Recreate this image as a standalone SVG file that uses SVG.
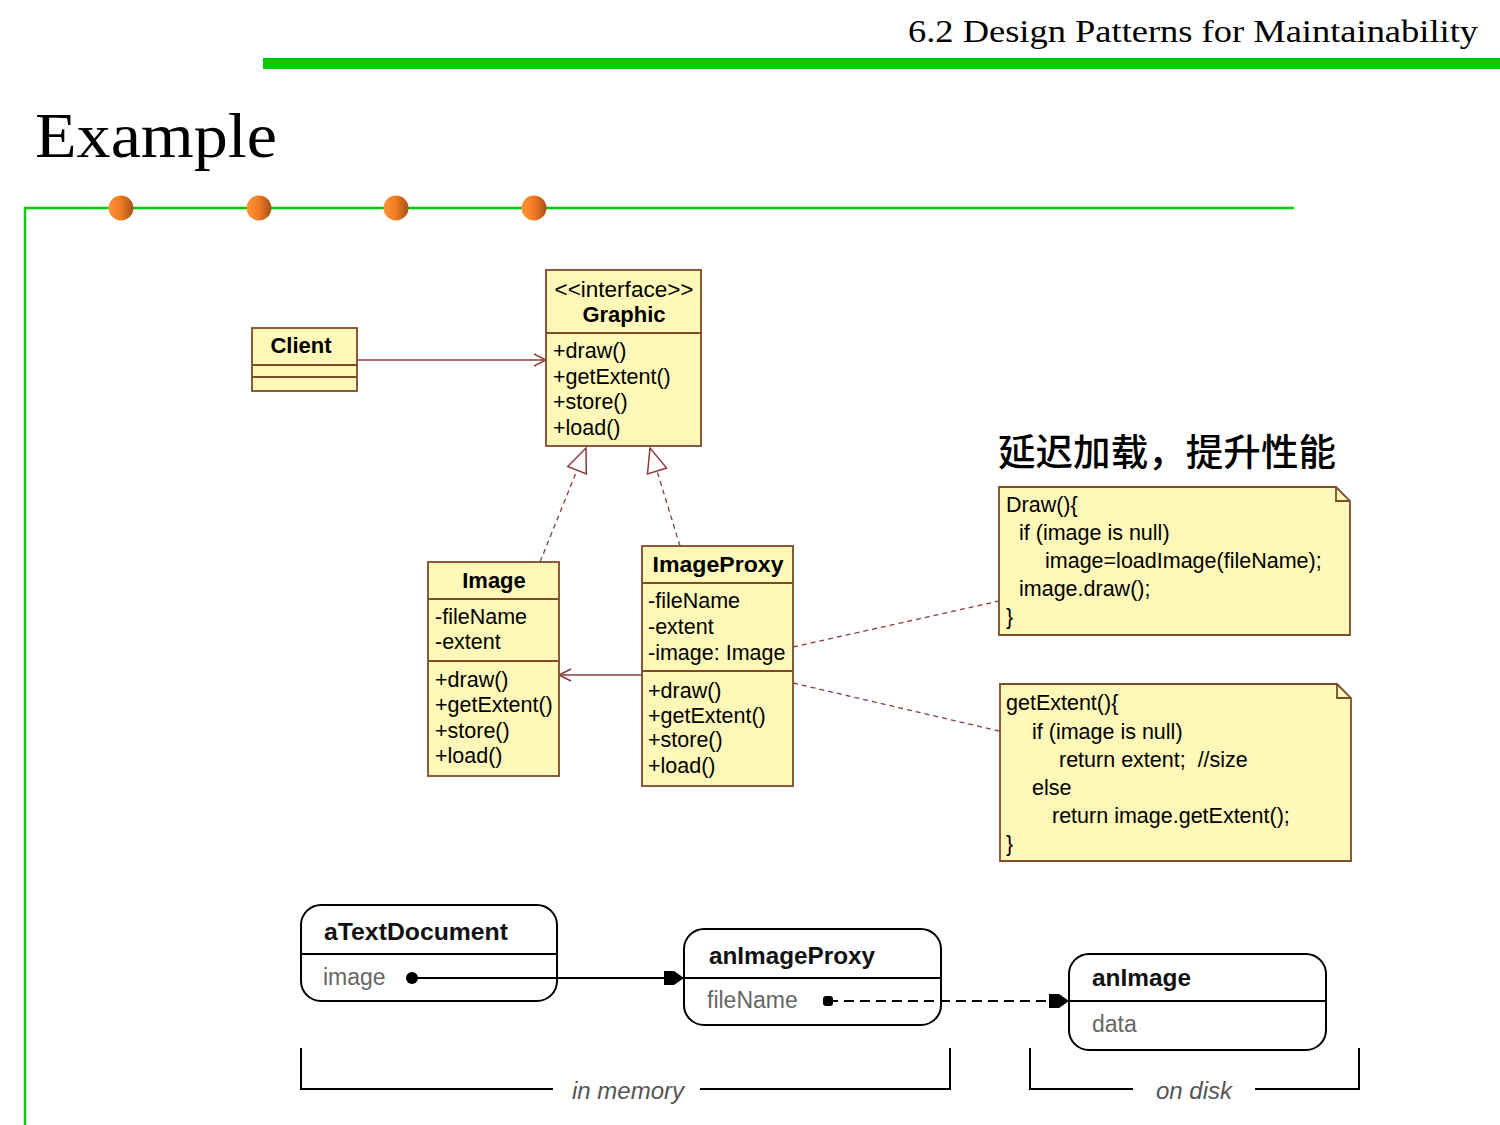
<svg xmlns="http://www.w3.org/2000/svg" width="1500" height="1125" viewBox="0 0 1500 1125">
<style>
.cls{fill:#FFF8B8;stroke:#7D4B2A;stroke-width:1.8}
.div{stroke:#7D4B2A;stroke-width:1.8;fill:none}
.t{font-family:"Liberation Sans",Arial,sans-serif;font-size:21.5px;fill:#000}
.tb{font-family:"Liberation Sans",Arial,sans-serif;font-size:22px;font-weight:bold;fill:#000}
.note{fill:#FFF8B8;stroke:#7D4B2A;stroke-width:1.8}
.nt{font-family:"Liberation Sans",Arial,sans-serif;font-size:21.5px;fill:#000}
.conn{stroke:#8C3B3B;stroke-width:1.5;fill:none}
.dash{stroke:#8C3B3B;stroke-width:1.3;fill:none;stroke-dasharray:5 4}
.obj{fill:none;stroke:#000;stroke-width:2}
.ob{font-family:"Liberation Sans",Arial,sans-serif;font-size:23px;font-weight:bold;fill:#111}
.oa{font-family:"Liberation Sans",Arial,sans-serif;font-size:23px;fill:#666}
.br{stroke:#000;stroke-width:2;fill:none}
.it{font-family:"Liberation Sans",Arial,sans-serif;font-size:24px;font-style:italic;fill:#555}
.dot{fill:url(#og)}
</style>
<defs>
<linearGradient id="og" x1="0" y1="0" x2="1" y2="0">
<stop offset="0" stop-color="#FF9438"/>
<stop offset="0.5" stop-color="#F07A22"/>
<stop offset="1" stop-color="#A4501A"/>
</linearGradient>
<marker id="open" markerUnits="userSpaceOnUse" markerWidth="16" markerHeight="16" refX="13" refY="8" orient="auto">
<path d="M1,2 L13,8 L1,14" fill="none" stroke="#8C3B3B" stroke-width="1.5"/>
</marker>
<marker id="tri" markerUnits="userSpaceOnUse" markerWidth="30" markerHeight="26" refX="26" refY="13" orient="auto">
<path d="M2,3 L26,13 L2,23 Z" fill="#fff" stroke="#8C3B3B" stroke-width="1.5" stroke-dasharray="none"/>
</marker>
<marker id="fill" markerUnits="userSpaceOnUse" markerWidth="24" markerHeight="18" refX="21" refY="9" orient="auto">
<path d="M1,2 L11,2 L21,9 L11,16 L1,16 Z" fill="#000" stroke="none"/>
</marker>
</defs>

<rect x="0" y="0" width="1500" height="1125" fill="#fff"/>

<!-- header -->
<g id="header">
<text x="1478" y="42" text-anchor="end" font-family="'Liberation Serif','DejaVu Serif',serif" font-size="32" textLength="570" lengthAdjust="spacingAndGlyphs" fill="#000">6.2 Design Patterns for Maintainability</text>
<rect x="263" y="58" width="1237" height="11" fill="#00CC00"/>
<text x="35" y="157" font-family="'Liberation Serif','DejaVu Serif',serif" font-size="63" textLength="242" lengthAdjust="spacingAndGlyphs" fill="#000">Example</text>
<line x1="24" y1="208" x2="1294" y2="208" stroke="#00CC00" stroke-width="2.5"/>
<line x1="25" y1="207" x2="25" y2="1125" stroke="#00CC00" stroke-width="2.5"/>
<circle class="dot" cx="121" cy="208" r="12.5"/>
<circle class="dot" cx="259" cy="208" r="12.5"/>
<circle class="dot" cx="396" cy="208" r="12.5"/>
<circle class="dot" cx="534" cy="208" r="12.5"/>
</g>

<!-- connectors -->
<g id="connectors">
<line class="conn" x1="357" y1="360" x2="546" y2="360" marker-end="url(#open)"/>
<line class="dash" x1="540" y1="562" x2="586" y2="448" marker-end="url(#tri)"/>
<line class="dash" x1="680" y1="546" x2="650" y2="448" marker-end="url(#tri)"/>
<line class="conn" x1="642" y1="675" x2="559" y2="675" marker-end="url(#open)"/>
<line class="dash" x1="793" y1="647" x2="999" y2="601"/>
<line class="dash" x1="793" y1="683" x2="999" y2="731"/>
<line x1="412" y1="978" x2="684" y2="978" stroke="#000" stroke-width="2" marker-end="url(#fill)"/>
<line x1="828" y1="1001" x2="1069" y2="1001" stroke="#000" stroke-width="2" stroke-dasharray="10 6" marker-end="url(#fill)"/>
</g>

<!-- Client -->
<g id="client">
<rect class="cls" x="252" y="328" width="105" height="63"/>
<line class="div" x1="252" y1="365" x2="357" y2="365"/>
<line class="div" x1="252" y1="377" x2="357" y2="377"/>
<text class="tb" x="301" y="353" text-anchor="middle">Client</text>
</g>

<!-- Graphic -->
<g id="graphic">
<rect class="cls" x="546" y="270" width="155" height="176"/>
<line class="div" x1="546" y1="333" x2="701" y2="333"/>
<text class="t" x="624" y="297" text-anchor="middle" textLength="139" lengthAdjust="spacingAndGlyphs">&lt;&lt;interface&gt;&gt;</text>
<text class="tb" x="624" y="322" text-anchor="middle">Graphic</text>
<text class="t" x="553" y="358">+draw()</text>
<text class="t" x="553" y="384">+getExtent()</text>
<text class="t" x="553" y="409">+store()</text>
<text class="t" x="553" y="435">+load()</text>
</g>

<!-- Image -->
<g id="image">
<rect class="cls" x="428" y="562" width="131" height="214"/>
<line class="div" x1="428" y1="599" x2="559" y2="599"/>
<line class="div" x1="428" y1="661" x2="559" y2="661"/>
<text class="tb" x="494" y="588" text-anchor="middle">Image</text>
<text class="t" x="435" y="624">-fileName</text>
<text class="t" x="435" y="649">-extent</text>
<text class="t" x="435" y="687">+draw()</text>
<text class="t" x="435" y="712">+getExtent()</text>
<text class="t" x="435" y="738">+store()</text>
<text class="t" x="435" y="763">+load()</text>
</g>

<!-- ImageProxy -->
<g id="imageproxy">
<rect class="cls" x="642" y="546" width="151" height="240"/>
<line class="div" x1="642" y1="583" x2="793" y2="583"/>
<line class="div" x1="642" y1="671" x2="793" y2="671"/>
<text class="tb" x="718" y="572" text-anchor="middle" textLength="131" lengthAdjust="spacingAndGlyphs">ImageProxy</text>
<text class="t" x="648" y="608">-fileName</text>
<text class="t" x="648" y="634">-extent</text>
<text class="t" x="648" y="660">-image: Image</text>
<text class="t" x="648" y="698">+draw()</text>
<text class="t" x="648" y="723">+getExtent()</text>
<text class="t" x="648" y="747">+store()</text>
<text class="t" x="648" y="773">+load()</text>
</g>

<!-- heading -->
<g id="heading">
<text x="998" y="466" font-family="'Noto Sans CJK SC','Noto Sans CJK JP',sans-serif" font-size="37" font-weight="500" fill="#000" textLength="338" lengthAdjust="spacingAndGlyphs">延迟加载，提升性能</text>
</g>

<!-- note draw -->
<g id="note-draw">
<path class="note" d="M999,487 H1336 L1350,501 V635 H999 Z"/>
<path class="div" d="M1336,487 V501 H1350"/>
<text class="nt" x="1006" y="512">Draw(){</text>
<text class="nt" x="1019" y="540">if (image is null)</text>
<text class="nt" x="1045" y="568">image=loadImage(fileName);</text>
<text class="nt" x="1019" y="596">image.draw();</text>
<text class="nt" x="1006" y="624">}</text>
</g>

<!-- note getExtent -->
<g id="note-getextent">
<path class="note" d="M1000,684 H1337 L1351,698 V861 H1000 Z"/>
<path class="div" d="M1337,684 V698 H1351"/>
<text class="nt" x="1006" y="710">getExtent(){</text>
<text class="nt" x="1032" y="739">if (image is null)</text>
<text class="nt" x="1059" y="767" xml:space="preserve">return extent;  //size</text>
<text class="nt" x="1032" y="795">else</text>
<text class="nt" x="1052" y="823">return image.getExtent();</text>
<text class="nt" x="1006" y="851">}</text>
</g>

<!-- object diagram -->
<g id="aTextDocument">
<rect class="obj" x="301" y="905" width="256" height="96" rx="20" ry="20"/>
<line class="br" x1="301" y1="954" x2="557" y2="954"/>
<text class="ob" x="324" y="940" textLength="184" lengthAdjust="spacingAndGlyphs">aTextDocument</text>
<text class="oa" x="323" y="985">image</text>
<circle cx="412" cy="978" r="6" fill="#000"/>
</g>

<g id="anImageProxy">
<rect class="obj" x="684" y="929" width="257" height="96" rx="20" ry="20"/>
<line class="br" x1="684" y1="978" x2="941" y2="978"/>
<text class="ob" x="709" y="964" textLength="166" lengthAdjust="spacingAndGlyphs">anImageProxy</text>
<text class="oa" x="707" y="1008">fileName</text>
<rect x="823" y="996" width="10" height="10" rx="3" fill="#000"/>
</g>

<g id="anImage">
<rect class="obj" x="1069" y="954" width="257" height="96" rx="20" ry="20"/>
<line class="br" x1="1069" y1="1001" x2="1326" y2="1001"/>
<text class="ob" x="1092" y="986" textLength="99" lengthAdjust="spacingAndGlyphs">anImage</text>
<text class="oa" x="1092" y="1032">data</text>
</g>

<g id="in-memory">
<path class="br" d="M301,1048 V1089 H553"/>
<path class="br" d="M700,1089 H950 V1048"/>
<text class="it" x="628" y="1099" text-anchor="middle">in memory</text>
</g>

<g id="on-disk">
<path class="br" d="M1030,1048 V1089 H1133"/>
<path class="br" d="M1255,1089 H1359 V1048"/>
<text class="it" x="1194" y="1099" text-anchor="middle">on disk</text>
</g>
</svg>
